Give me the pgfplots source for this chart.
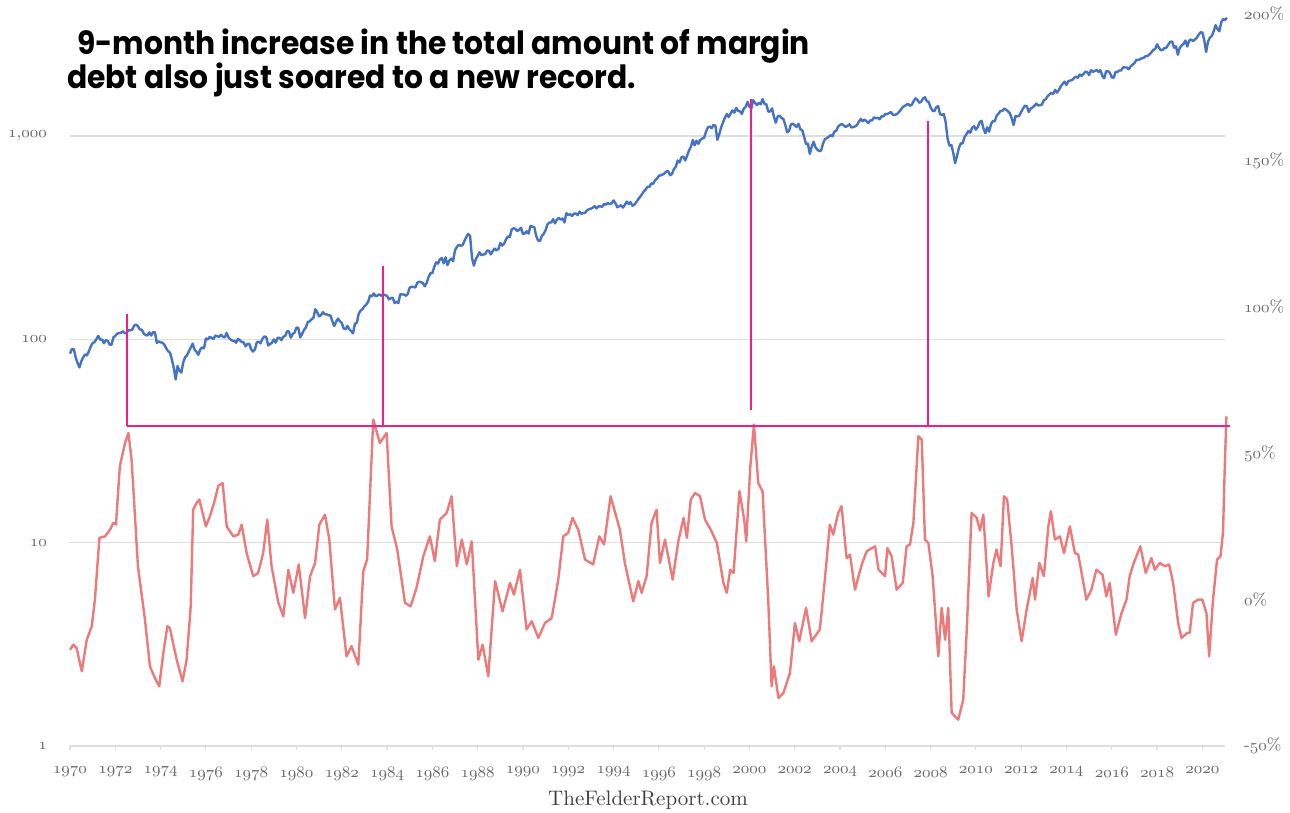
\documentclass[border=0pt]{standalone}
\usepackage{fontspec}
\usepackage{pgfplots}
\usepackage{pgfplotstable}
\pgfplotsset{compat=1.18}
\usetikzlibrary{calc}
\newfontfamily\titlefont{Poppins}[FakeStretch=0.93]
% old-style figures from the CM math italic font
\newcommand\osf[1]{{\fontencoding{OML}\fontfamily{cmm}\fontseries{m}\fontshape{it}\selectfont #1}}

\definecolor{spxblue}{RGB}{68,114,196}
\definecolor{mdred}{RGB}{236,122,122}
\definecolor{markpink}{RGB}{240,30,140}
\definecolor{gridgray}{RGB}{222,222,222}
\definecolor{labgray}{RGB}{105,105,105}

% S&P 500, monthly, Jan 1970 - Feb 2021
\pgfplotstableread[row sep=\\]{
v\\
85\\ 89.5\\ 89.6\\ 81.5\\ 76.5\\ 72.7\\ 78\\ 81.5\\ 84.3\\ 83.3\\ 87.2\\ 92.2\\
95.9\\ 96.8\\ 100.3\\ 103.9\\ 99.6\\ 99.7\\ 95.6\\ 99.0\\ 98.3\\ 94.2\\ 94.0\\ 102.1\\
103.9\\ 106.6\\ 107.2\\ 107.7\\ 109.5\\ 107.1\\ 107.4\\ 111.1\\ 110.6\\ 111.6\\ 116.7\\ 118.1\\
116.0\\ 111.7\\ 111.5\\ 107.0\\ 105.0\\ 104.3\\ 108.2\\ 104.3\\ 108.4\\ 108.3\\ 96.0\\ 97.6\\
96.6\\ 96.2\\ 94.0\\ 90.3\\ 87.3\\ 86.0\\ 79.3\\ 72.2\\ 63.5\\ 73.9\\ 70.0\\ 68.6\\
77.0\\ 81.6\\ 83.4\\ 87.3\\ 91.2\\ 95.2\\ 88.8\\ 86.9\\ 83.9\\ 89.0\\ 91.2\\ 90.2\\
100.9\\ 99.7\\ 102.8\\ 101.6\\ 100.2\\ 104.3\\ 103.4\\ 102.9\\ 105.2\\ 102.9\\ 102.1\\ 107.5\\
102.0\\ 99.8\\ 98.4\\ 98.4\\ 96.1\\ 100.5\\ 98.9\\ 97.0\\ 96.5\\ 92.3\\ 94.8\\ 95.1\\
89.3\\ 87.0\\ 89.2\\ 96.8\\ 97.3\\ 95.5\\ 100.7\\ 103.3\\ 102.5\\ 93.2\\ 94.7\\ 96.1\\
99.9\\ 96.3\\ 101.6\\ 101.8\\ 99.1\\ 102.9\\ 103.8\\ 109.3\\ 109.3\\ 101.8\\ 106.2\\ 107.9\\
114.2\\ 113.7\\ 102.1\\ 106.3\\ 111.2\\ 114.2\\ 121.7\\ 122.4\\ 125.5\\ 127.5\\ 140.5\\ 135.8\\
129.6\\ 131.3\\ 136.0\\ 132.8\\ 132.6\\ 131.2\\ 130.9\\ 122.8\\ 116.2\\ 121.9\\ 126.4\\ 122.6\\
120.4\\ 113.1\\ 112.0\\ 116.4\\ 111.9\\ 109.6\\ 107.1\\ 119.5\\ 120.4\\ 133.7\\ 138.5\\ 140.6\\
145.3\\ 148.1\\ 153.0\\ 164.4\\ 162.4\\ 168.1\\ 162.6\\ 164.4\\ 166.1\\ 163.6\\ 166.4\\ 164.9\\
163.4\\ 157.1\\ 159.2\\ 160.1\\ 150.6\\ 153.2\\ 150.7\\ 166.7\\ 166.1\\ 166.1\\ 163.6\\ 167.2\\
179.6\\ 181.2\\ 180.7\\ 179.8\\ 189.6\\ 191.9\\ 190.9\\ 188.6\\ 182.1\\ 189.8\\ 202.2\\ 211.3\\
211.8\\ 226.9\\ 238.9\\ 235.5\\ 247.4\\ 250.8\\ 236.1\\ 252.9\\ 231.3\\ 244.0\\ 249.2\\ 242.2\\
274.1\\ 284.2\\ 291.7\\ 288.4\\ 290.1\\ 304.0\\ 318.7\\ 329.8\\ 321.8\\ 251.8\\ 230.3\\ 247.1\\
257.1\\ 267.8\\ 258.9\\ 261.3\\ 262.2\\ 273.5\\ 272.0\\ 261.5\\ 271.9\\ 279.0\\ 273.7\\ 277.7\\
297.5\\ 288.9\\ 294.9\\ 309.6\\ 320.5\\ 318.0\\ 346.1\\ 351.5\\ 349.2\\ 340.4\\ 346.0\\ 353.4\\
329.1\\ 331.9\\ 339.9\\ 330.8\\ 361.2\\ 358.0\\ 356.2\\ 322.6\\ 306.1\\ 304.0\\ 322.2\\ 330.2\\
343.9\\ 367.1\\ 375.2\\ 375.3\\ 389.8\\ 371.2\\ 387.8\\ 395.4\\ 387.9\\ 392.5\\ 375.2\\ 417.1\\
408.8\\ 412.7\\ 403.7\\ 415.0\\ 415.4\\ 408.1\\ 424.2\\ 414.0\\ 417.8\\ 418.7\\ 431.4\\ 435.7\\
438.8\\ 443.4\\ 451.7\\ 440.2\\ 450.2\\ 450.5\\ 448.1\\ 463.6\\ 458.9\\ 467.8\\ 461.8\\ 466.5\\
481.6\\ 467.1\\ 445.8\\ 450.9\\ 456.5\\ 444.3\\ 458.3\\ 475.5\\ 462.7\\ 472.4\\ 453.7\\ 459.3\\
470.4\\ 487.4\\ 500.7\\ 514.7\\ 533.4\\ 544.8\\ 562.1\\ 561.9\\ 584.4\\ 581.5\\ 605.4\\ 615.9\\
636.0\\ 640.4\\ 645.5\\ 654.2\\ 669.1\\ 670.6\\ 640.0\\ 652.0\\ 687.3\\ 705.3\\ 757.0\\ 740.7\\
786.2\\ 790.8\\ 757.1\\ 801.3\\ 848.3\\ 885.1\\ 954.3\\ 899.5\\ 947.3\\ 914.6\\ 955.4\\ 970.4\\
980.3\\ 1049.3\\ 1101.8\\ 1111.8\\ 1090.8\\ 1133.8\\ 1120.7\\ 957.3\\ 1017.0\\ 1098.7\\ 1163.6\\ 1229.2\\
1279.6\\ 1238.3\\ 1286.4\\ 1335.2\\ 1301.8\\ 1372.7\\ 1328.7\\ 1320.4\\ 1282.7\\ 1362.9\\ 1388.9\\ 1469.3\\
1394.5\\ 1366.4\\ 1498.6\\ 1452.4\\ 1420.6\\ 1454.6\\ 1430.8\\ 1517.7\\ 1436.5\\ 1429.4\\ 1315.2\\ 1320.3\\
1366.0\\ 1239.9\\ 1160.3\\ 1249.5\\ 1255.8\\ 1224.4\\ 1211.2\\ 1133.6\\ 1040.9\\ 1059.8\\ 1139.5\\ 1148.1\\
1130.2\\ 1106.7\\ 1147.4\\ 1076.9\\ 1067.1\\ 989.8\\ 911.6\\ 916.1\\ 815.3\\ 885.8\\ 936.3\\ 879.8\\
855.7\\ 841.2\\ 848.2\\ 916.9\\ 963.6\\ 974.5\\ 990.3\\ 1008.0\\ 996.0\\ 1050.7\\ 1058.2\\ 1111.9\\
1131.1\\ 1144.9\\ 1126.2\\ 1107.3\\ 1120.7\\ 1140.8\\ 1101.7\\ 1104.2\\ 1114.6\\ 1130.2\\ 1173.8\\ 1211.9\\
1181.3\\ 1203.6\\ 1180.6\\ 1156.9\\ 1191.5\\ 1191.3\\ 1234.2\\ 1220.3\\ 1228.8\\ 1207.0\\ 1249.5\\ 1248.3\\
1280.1\\ 1280.7\\ 1294.9\\ 1310.6\\ 1270.1\\ 1270.2\\ 1276.7\\ 1303.8\\ 1335.9\\ 1377.9\\ 1400.6\\ 1418.3\\
1438.2\\ 1406.8\\ 1420.9\\ 1482.4\\ 1530.6\\ 1503.4\\ 1455.3\\ 1474.0\\ 1526.8\\ 1549.4\\ 1481.1\\ 1468.4\\
1378.6\\ 1330.6\\ 1322.7\\ 1385.6\\ 1400.4\\ 1280.0\\ 1267.4\\ 1282.8\\ 1166.4\\ 968.8\\ 896.2\\ 903.3\\
825.9\\ 735.1\\ 797.9\\ 872.8\\ 919.1\\ 919.3\\ 987.5\\ 1020.6\\ 1057.1\\ 1036.2\\ 1095.6\\ 1115.1\\
1073.9\\ 1104.5\\ 1169.4\\ 1186.7\\ 1089.4\\ 1030.7\\ 1101.6\\ 1049.3\\ 1141.2\\ 1183.3\\ 1180.6\\ 1257.6\\
1286.1\\ 1327.2\\ 1325.8\\ 1363.6\\ 1345.2\\ 1320.6\\ 1292.3\\ 1218.9\\ 1131.4\\ 1253.3\\ 1247.0\\ 1257.6\\
1312.4\\ 1365.7\\ 1408.5\\ 1397.9\\ 1310.3\\ 1362.2\\ 1379.3\\ 1406.6\\ 1440.7\\ 1412.2\\ 1416.2\\ 1426.2\\
1498.1\\ 1514.7\\ 1569.2\\ 1597.6\\ 1630.7\\ 1606.3\\ 1685.7\\ 1633.0\\ 1681.6\\ 1756.5\\ 1805.8\\ 1848.4\\
1782.6\\ 1859.5\\ 1872.3\\ 1884.0\\ 1923.6\\ 1960.2\\ 1930.7\\ 2003.4\\ 1972.3\\ 2018.1\\ 2067.6\\ 2058.9\\
1995.0\\ 2104.5\\ 2067.9\\ 2085.5\\ 2107.4\\ 2063.1\\ 2103.8\\ 1972.2\\ 1920.0\\ 2079.4\\ 2080.4\\ 2043.9\\
1940.2\\ 1932.2\\ 2059.7\\ 2065.3\\ 2097.0\\ 2098.9\\ 2173.6\\ 2171.0\\ 2168.3\\ 2126.2\\ 2199.0\\ 2238.8\\
2278.9\\ 2363.6\\ 2362.7\\ 2384.2\\ 2411.8\\ 2423.4\\ 2470.3\\ 2471.7\\ 2519.4\\ 2575.3\\ 2647.6\\ 2673.6\\
2823.8\\ 2713.8\\ 2640.9\\ 2648.1\\ 2705.3\\ 2718.4\\ 2816.3\\ 2901.5\\ 2914.0\\ 2711.7\\ 2760.2\\ 2506.9\\
2704.1\\ 2784.5\\ 2834.4\\ 2945.8\\ 2752.1\\ 2941.8\\ 2980.4\\ 2926.5\\ 2976.7\\ 3037.6\\ 3141.0\\ 3230.8\\
3225.5\\ 2954.2\\ 2584.6\\ 2912.4\\ 3044.3\\ 3100.3\\ 3271.1\\ 3500.3\\ 3363.0\\ 3270.0\\ 3621.6\\ 3756.1\\
3714.2\\ 3811.2\\
}\spx

\begin{document}
\begin{tikzpicture}
\begin{axis}[
    name=ax,
    scale only axis,
    width=577.5pt,
    height=366pt,
    xmin=1970, xmax=2021,
    ymode=log, ymin=1, ymax=3977,
    axis x line*=bottom,
    axis y line*=left,
    y axis line style={draw=none},
    x axis line style={draw=gridgray, line width=0.6pt},
    tick align=outside,
    major tick length=2pt,
    xtick={1970,1972,...,2020},
    xticklabels={\osf{1970},\osf{1972},\osf{1974},\osf{1976},\osf{1978},\osf{1980},\osf{1982},\osf{1984},\osf{1986},\osf{1988},\osf{1990},\osf{1992},\osf{1994},\osf{1996},\osf{1998},\osf{2000},\osf{2002},\osf{2004},\osf{2006},\osf{2008},\osf{2010},\osf{2012},\osf{2014},\osf{2016},\osf{2018},\osf{2020}},
    xtick style={draw=gridgray, line width=0.6pt},
    ytick={1,10,100,1000},
    yticklabels={\osf{1},\osf{10},\osf{100},{\osf{1},\osf{000}}},
    ytick style={draw=none},
    ymajorgrids,
    grid style={draw=gridgray, line width=0.6pt},
    tick label style={font=\fontsize{8.5}{10}\selectfont, text=labgray},
    xticklabel style={yshift=-5pt},
    yticklabel style={xshift=-6pt},
    clip=false,
]
\addplot[spxblue, line width=1.2pt, line join=round] table[x expr=1970+\coordindex/12, y=v] {\spx};
\end{axis}

\begin{axis}[
    scale only axis,
    width=577.5pt,
    height=366pt,
    xmin=1970, xmax=2021,
    ymin=-50, ymax=200,
    axis x line=none,
    axis y line*=right,
    y axis line style={draw=none},
    ytick={-50,0,50,100,150,200},
    yticklabels={{-}\osf{50}\%,\osf{0}\%,\osf{50}\%,\osf{100}\%,\osf{150}\%,\osf{200}\%},
    ytick style={draw=none},
    tick label style={font=\fontsize{8.5}{10}\selectfont, text=labgray},
    yticklabel style={xshift=6pt},
    clip=false,
]
% 9-month change in margin debt (%)
\addplot[mdred, line width=1.2pt, line join=round] coordinates {
(1970.0,-17.1) (1970.15,-15.4) (1970.29,-16.5) (1970.52,-24.5) (1970.74,-13.7) (1970.96,-9.1) (1971.1,0) (1971.3,21.1) (1971.55,21.6) (1971.77,23.9) (1971.91,26.2) (1972.03,25.6) (1972.2,45.5) (1972.43,53.5) (1972.58,56.9) (1972.72,47.8) (1973.0,11.4) (1973.31,-6.8) (1973.53,-22.8) (1973.75,-26.8) (1973.94,-29.6) (1974.12,-18.2) (1974.3,-9.1) (1974.41,-9.7) (1974.71,-20.5) (1974.97,-27.9) (1975.15,-20.5) (1975.33,-2.3) (1975.44,30.7) (1975.59,33.0) (1975.71,34.2) (1976.0,25.0) (1976.18,28.5) (1976.36,33.0) (1976.55,38.9) (1976.74,39.8) (1976.92,25.0) (1977.21,21.6) (1977.43,22.2) (1977.58,25.6) (1977.8,15.9) (1978.09,8.0) (1978.31,9.1) (1978.53,15.9) (1978.71,27.3) (1978.9,11.4) (1979.2,-1.1) (1979.42,-5.7) (1979.64,10.2) (1979.86,2.3) (1980.1,12.0) (1980.38,-6.3) (1980.6,8.0) (1980.82,12.5) (1981.01,25.6) (1981.26,29.0) (1981.45,20.5) (1981.7,-3.4) (1981.92,0.6) (1982.21,-19.4) (1982.43,-15.9) (1982.73,-22.2) (1982.95,9.7) (1983.12,13.7) (1983.39,61.5) (1983.68,53.5) (1983.98,56.9) (1984.2,25.0) (1984.45,17.1) (1984.79,-1.1) (1985.04,-2.3) (1985.3,4.0) (1985.6,14.8) (1985.89,21.6) (1986.11,13.1) (1986.33,27.3) (1986.63,29.6) (1986.85,35.3) (1987.08,11.4) (1987.3,20.5) (1987.52,12.0) (1987.74,19.9) (1988.03,-20.5) (1988.22,-15.4) (1988.47,-26.2) (1988.77,6.3) (1989.1,-4.0) (1989.43,5.7) (1989.6,1.7) (1989.87,10.2) (1990.16,-10.2) (1990.39,-7.4) (1990.68,-13.1) (1990.97,-8.0) (1991.27,-6.3) (1991.56,6.8) (1991.78,21.6) (1992.0,22.8) (1992.19,27.9) (1992.44,23.9) (1992.74,13.7) (1993.1,12.0) (1993.37,21.6) (1993.58,18.8) (1993.87,35.3) (1994.28,23.9) (1994.5,12.5) (1994.87,-0.6) (1995.1,6.3) (1995.24,2.3) (1995.46,8.0) (1995.68,26.2) (1995.9,30.7) (1996.05,12.5) (1996.27,20.5) (1996.61,6.8) (1996.86,19.9) (1997.09,27.9) (1997.24,21.1) (1997.41,34.2) (1997.6,36.4) (1997.82,35.3) (1998.04,27.3) (1998.29,23.9) (1998.56,19.4) (1998.85,5.7) (1999.0,2.3) (1999.15,10.2) (1999.3,9.1) (1999.56,37.0) (1999.77,27.3) (1999.86,19.9) (2000.04,45.5) (2000.2,59.8) (2000.39,39.8) (2000.58,37.0) (2000.83,0) (2000.98,-29.6) (2001.08,-22.8) (2001.28,-33.6) (2001.5,-31.9) (2001.79,-25.0) (2002.01,-8.0) (2002.2,-14.2) (2002.5,-2.8) (2002.75,-14.2) (2003.11,-10.2) (2003.33,6.8) (2003.55,25.6) (2003.7,22.2) (2003.92,29.6) (2004.07,31.9) (2004.29,14.2) (2004.44,15.4) (2004.66,3.4) (2004.96,12.0) (2005.18,16.5) (2005.55,18.2) (2005.7,10.2) (2005.99,8.0) (2006.09,17.6) (2006.28,14.8) (2006.5,3.4) (2006.77,5.7) (2006.94,18.2) (2007.09,18.8) (2007.24,26.2) (2007.46,55.8) (2007.61,54.6) (2007.75,20.5) (2007.9,19.4) (2008.09,8.0) (2008.34,-19.4) (2008.49,-2.8) (2008.64,-13.7) (2008.78,-2.8) (2008.93,-38.7) (2009.22,-41.0) (2009.44,-34.2) (2009.59,-11.4) (2009.81,29.6) (2010.04,27.9) (2010.18,23.6) (2010.33,29.0) (2010.56,1.1) (2010.77,12.5) (2010.91,17.1) (2011.09,11.4) (2011.24,35.3) (2011.38,34.2) (2011.58,18.2) (2011.8,-3.4) (2012.02,-14.2) (2012.24,-3.4) (2012.51,7.4) (2012.61,0) (2012.8,12.5) (2013.0,8.0) (2013.2,25.0) (2013.31,30.2) (2013.49,20.5) (2013.71,21.6) (2013.89,15.9) (2014.15,25.0) (2014.37,15.9) (2014.52,15.4) (2014.88,0) (2015.1,3.4) (2015.32,10.2) (2015.59,8.5) (2015.76,1.1) (2015.91,5.7) (2016.18,-12.0) (2016.43,-4.6) (2016.65,0) (2016.79,8.0) (2016.97,12.5) (2017.26,18.2) (2017.5,9.1) (2017.75,14.2) (2017.9,10.2) (2018.12,12.5) (2018.34,11.4) (2018.53,12.0) (2018.71,5.7) (2018.93,-8.0) (2019.08,-13.1) (2019.33,-11.4) (2019.44,-11.4) (2019.59,-1.1) (2019.81,0) (2020.0,0) (2020.18,-4.6) (2020.3,-19.4) (2020.47,0) (2020.65,13.7) (2020.8,14.8) (2020.91,22.8) (2020.99,45.5) (2021.06,62.6)
};
% highlight lines
\addplot[markpink, line width=1pt] coordinates {(1972.52,97.7) (1972.52,59.4)};
\addplot[markpink, line width=1pt] coordinates {(1983.82,114.1) (1983.82,59.4)};
\addplot[markpink, line width=1pt] coordinates {(2000.07,170.8) (2000.07,64.9)};
\addplot[markpink, line width=1pt] coordinates {(2007.88,163.3) (2007.88,59.4)};
\addplot[markpink, line width=1pt] coordinates {(1972.52,59.4) (2021.2,59.4)};
\end{axis}

\node[anchor=base west, font=\titlefont\bfseries\fontsize{16}{19}\selectfont] at ($(ax.north west)+(0pt,-20.5pt)$) {9-month increase in the total amount of margin};
\node[anchor=base west, font=\titlefont\bfseries\fontsize{16}{19}\selectfont] at ($(ax.north west)+(-5pt,-37.5pt)$) {debt also just soared to a new record.};
\node[anchor=center, font=\fontsize{10.5}{12}\selectfont, text=black!75] at ($(ax.south west)+(289pt,-27pt)$) {TheFelderReport.com};

\pgfresetboundingbox
\path ($(ax.south west)+(-35pt,-33pt)$) rectangle ($(ax.north east)+(32.5pt,7pt)$);
\end{tikzpicture}
\end{document}
